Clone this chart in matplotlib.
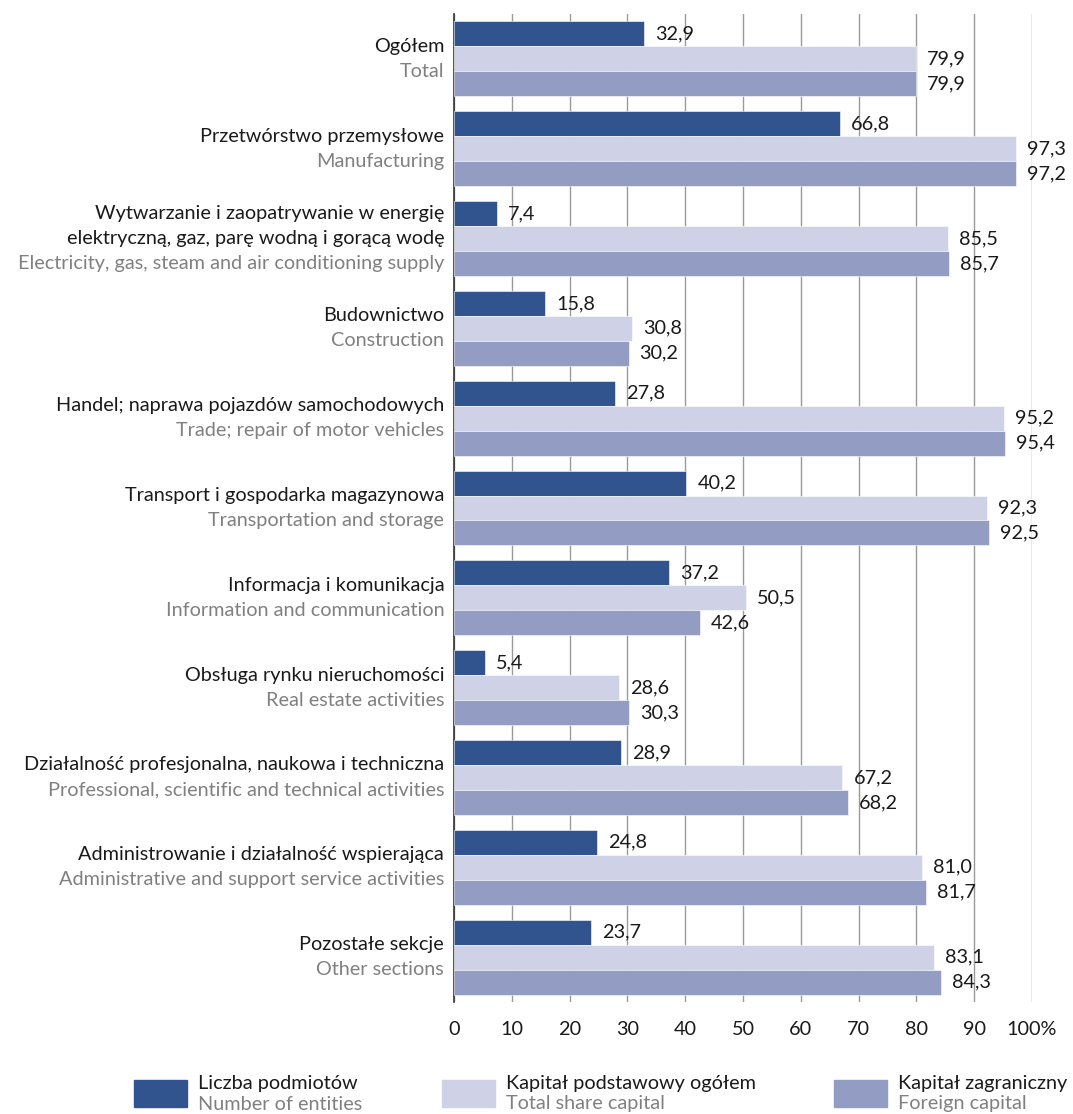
import matplotlib as mpl
import matplotlib.pyplot as plt
from matplotlib.patches import Rectangle
import numpy as np

mpl.rcParams["font.family"] = ["Lato", "DejaVu Sans"]

labels_pl = ["Ogółem",
             "Przetwórstwo przemysłowe",
             "Wytwarzanie i zaopatrywanie w energię\nelektryczną, gaz, parę wodną i gorącą wodę",
             "Budownictwo",
             "Handel; naprawa pojazdów samochodowych",
             "Transport i gospodarka magazynowa",
             "Informacja i komunikacja",
             "Obsługa rynku nieruchomości",
             "Działalność profesjonalna, naukowa i techniczna",
             "Administrowanie i działalność wspierająca",
             "Pozostałe sekcje"]
labels_en = ["Total",
             "Manufacturing",
             "Electricity, gas, steam and air conditioning supply",
             "Construction",
             "Trade; repair of motor vehicles",
             "Transportation and storage",
             "Information and communication",
             "Real estate activities",
             "Professional, scientific and technical activities",
             "Administrative and support service activities",
             "Other sections"]

entities = [32.9, 66.8, 7.4, 15.8, 27.8, 40.2, 37.2, 5.4, 28.9, 24.8, 23.7]
total_cap = [79.9, 97.3, 85.5, 30.8, 95.2, 92.3, 50.5, 28.6, 67.2, 81.0, 83.1]
foreign_cap = [79.9, 97.2, 85.7, 30.2, 95.4, 92.5, 42.6, 30.3, 68.2, 81.7, 84.3]

series_pl = ["Liczba podmiotów", "Kapitał podstawowy ogółem", "Kapitał zagraniczny"]
series_en = ["Number of entities", "Total share capital", "Foreign capital"]
colors = ["#32548e", "#cfd2e6", "#939cc2"]

fig = plt.figure(figsize=(10.73, 11.14), dpi=100)
ax = fig.add_axes([454/1073, 1 - 1002/1114, 578/1073, 988/1114])

y = np.arange(len(entities))
h = 0.278
fs = 14.3
for k, vals in enumerate([entities, total_cap, foreign_cap]):
    pos = y + (k - 1) * h
    ax.barh(pos, vals, height=h, color=colors[k], edgecolor="white", linewidth=0.4, zorder=3)
    for p, v in zip(pos, vals):
        ax.text(v + 1.9, p, f"{v:.1f}".replace(".", ","), va="center", ha="left",
                fontsize=fs, color="#1a1a1a", zorder=4)

ax.set_xlim(0, 100)
ax.set_ylim(10.5, -0.5)
ax.set_xticks(np.arange(0, 101, 10))
ax.set_xticklabels([str(t) for t in range(0, 100, 10)] + ["100%"], fontsize=fs, color="#1a1a1a")
ax.tick_params(axis="x", length=0, pad=14)
ax.set_yticks([])
ax.grid(True, axis="x", color="#9a9a9a", lw=1, zorder=0)
for s in ["top", "right", "bottom"]:
    ax.spines[s].set_visible(False)
ax.spines["left"].set_color("#333333")
ax.spines["left"].set_linewidth(1.2)

# category labels: Polish (black) over English (gray)
line = 0.28
for i, (pl, en) in enumerate(zip(labels_pl, labels_en)):
    lines = pl.split("\n")
    n = len(lines) + 1
    top = i - (n - 1) * line / 2
    for j, t in enumerate(lines):
        ax.text(-1.7, top + j * line, t, ha="right", va="center", fontsize=fs,
                color="#1a1a1a", transform=ax.transData, clip_on=False)
    ax.text(-1.7, top + len(lines) * line, en, ha="right", va="center", fontsize=fs,
            color="#808080", transform=ax.transData, clip_on=False)

# legend
W, H = 1073, 1114
for x0, c, pl, en in zip([134, 442, 834], colors, series_pl, series_en):
    fig.add_artist(Rectangle((x0 / W, 1 - 1107 / H), 53 / W, 27 / H,
                             transform=fig.transFigure, color=c))
    fig.text((x0 + 64) / W, 1 - 1083 / H, pl, ha="left", va="center", fontsize=fs, color="#1a1a1a")
    fig.text((x0 + 64) / W, 1 - 1104 / H, en, ha="left", va="center", fontsize=fs, color="#808080")

fig.savefig("out.png", dpi=100)
